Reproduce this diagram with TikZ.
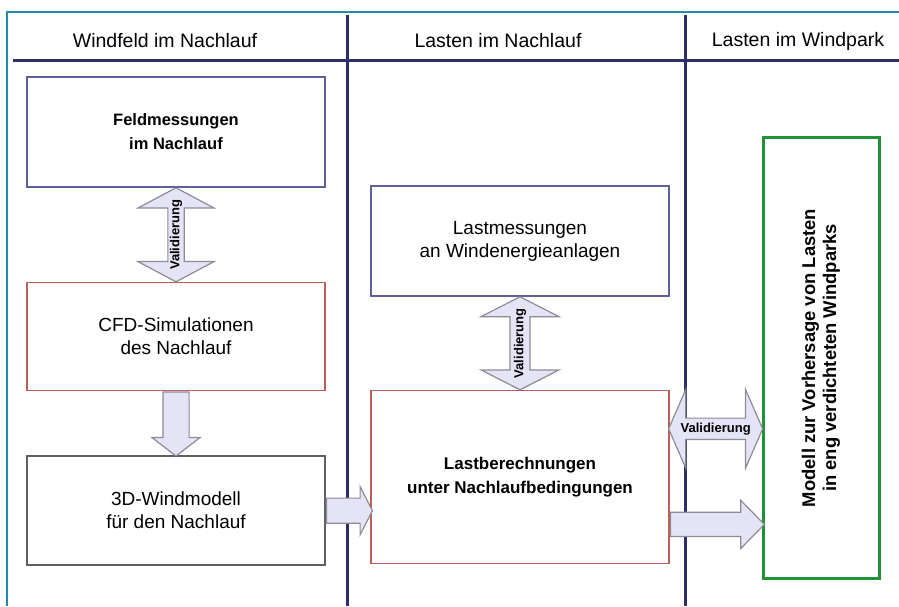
\documentclass[tikz,border=0pt]{standalone}
\usepackage{fontspec}
\setmainfont{Liberation Sans}
\usetikzlibrary{positioning, shapes.arrows, calc}
\definecolor{laneblue}{RGB}{45, 45, 110}
\definecolor{frameteal}{RGB}{30, 140, 170}
\definecolor{boxblue}{RGB}{95, 95, 155}
\definecolor{boxred}{RGB}{190, 95, 85}
\definecolor{boxgray}{RGB}{95, 95, 95}
\definecolor{boxgreen}{RGB}{35, 145, 55}
\definecolor{arrfill}{RGB}{228, 228, 246}
\definecolor{arrline}{RGB}{140, 140, 150}

\begin{document}
\begin{tikzpicture}[x=1pt, y=1pt,
  box/.style={draw, line width=1.6pt, fill=white, minimum width=298pt,
              minimum height=110pt, align=center, inner sep=0pt,
              font=\fontsize{19}{23}\selectfont},
  lane/.style={laneblue, line width=3pt},
  lanehead/.style={font=\fontsize{19.5}{23}\selectfont},
  blockarr/.style={single arrow, draw=arrline, fill=arrfill, line width=1.2pt,
                   inner xsep=0pt},
  dblarr/.style={double arrow, draw=arrline, fill=arrfill, line width=1.2pt,
                 inner sep=0pt, font=\fontsize{13}{15}\selectfont\bfseries}]

  \useasboundingbox (0,0) rectangle (899,606);

  % frame and lanes
  \draw[frameteal, line width=1.5pt] (7,0) -- (7,594) -- (899,594);
  \draw[lane] (13,545) -- (899,545);
  \draw[lane] (347,591) -- (347,0);
  \draw[lane] (685,591) -- (685,0);

  \node[lanehead] (hwind) at (165,565) {Windfeld im Nachlauf};
  \node[lanehead] (hlast) at (498,565) {Lasten im Nachlauf};
  \node[lanehead] (hpark) at (798,565) {Lasten im Windpark};

  % boxes
  \node[box, draw=boxblue, font=\fontsize{16.5}{24}\selectfont\bfseries] (feld) at (176,474)
    {Feldmessungen\\im Nachlauf};
  \node[box, draw=boxred, below=94pt of feld, minimum height=108pt] (cfd)
    {CFD-Simulationen\\des Nachlauf};
  \node[box, draw=boxgray, below=64pt of cfd, minimum height=109pt] (wind)
    {3D-Windmodell\\für den Nachlauf};

  \node[box, draw=boxblue] (lastm) at (520,365)
    {Lastmessungen\\an Windenergieanlagen};
  \node[box, draw=boxred, below=93pt of lastm, minimum height=173pt,
        font=\fontsize{17}{24}\selectfont\bfseries] (lastb)
    {Lastberechnungen\\unter Nachlaufbedingungen};

  \node[box, draw=boxgreen, line width=3pt, rotate=90, minimum width=440pt,
        minimum height=116pt, font=\fontsize{18.4}{21}\selectfont\bfseries] (modell) at (821,248)
    {Modell zur Vorhersage von Lasten\\in eng verdichteten Windparks};

  % block arrows
  \node[dblarr, rotate=90, minimum height=94pt, minimum width=76pt,
        double arrow head extend=24.5pt, double arrow tip angle=124] (val1)
    at ($(feld.south)!0.5!(cfd.north)$) {\makebox[0pt]{Validierung}};
  \node[dblarr, rotate=90, minimum height=93pt, minimum width=78pt,
        double arrow head extend=19.5pt, double arrow tip angle=126] (val2)
    at ($(lastm.south)!0.5!(lastb.north)$) {\makebox[0pt]{Validierung}};
  \node[dblarr, minimum height=94pt, minimum width=79pt,
        double arrow head extend=18pt, double arrow tip angle=133] (val3)
    at ($(lastb.north east)!0.5!(modell.north |- lastb.north east)+(0,-39)$) {\makebox[0pt]{Validierung}};

  \node[blockarr, rotate=-90, anchor=tail, minimum height=64pt, minimum width=47pt,
        inner ysep=12.5pt, single arrow head extend=11pt, single arrow tip angle=105] (cfdwind)
    at (cfd.south) {};
  \node[blockarr, anchor=tail, minimum height=46pt, minimum width=47pt,
        inner ysep=12pt, single arrow head extend=11.5pt, single arrow tip angle=126] (windlast)
    at (wind.east) {};
  \node[blockarr, anchor=tail, minimum height=94pt, minimum width=47pt,
        inner ysep=11.5pt, single arrow head extend=12pt, single arrow tip angle=91] (lastmod)
    at ($(lastb.south east)+(0,40)$) {};
\end{tikzpicture}
\end{document}
